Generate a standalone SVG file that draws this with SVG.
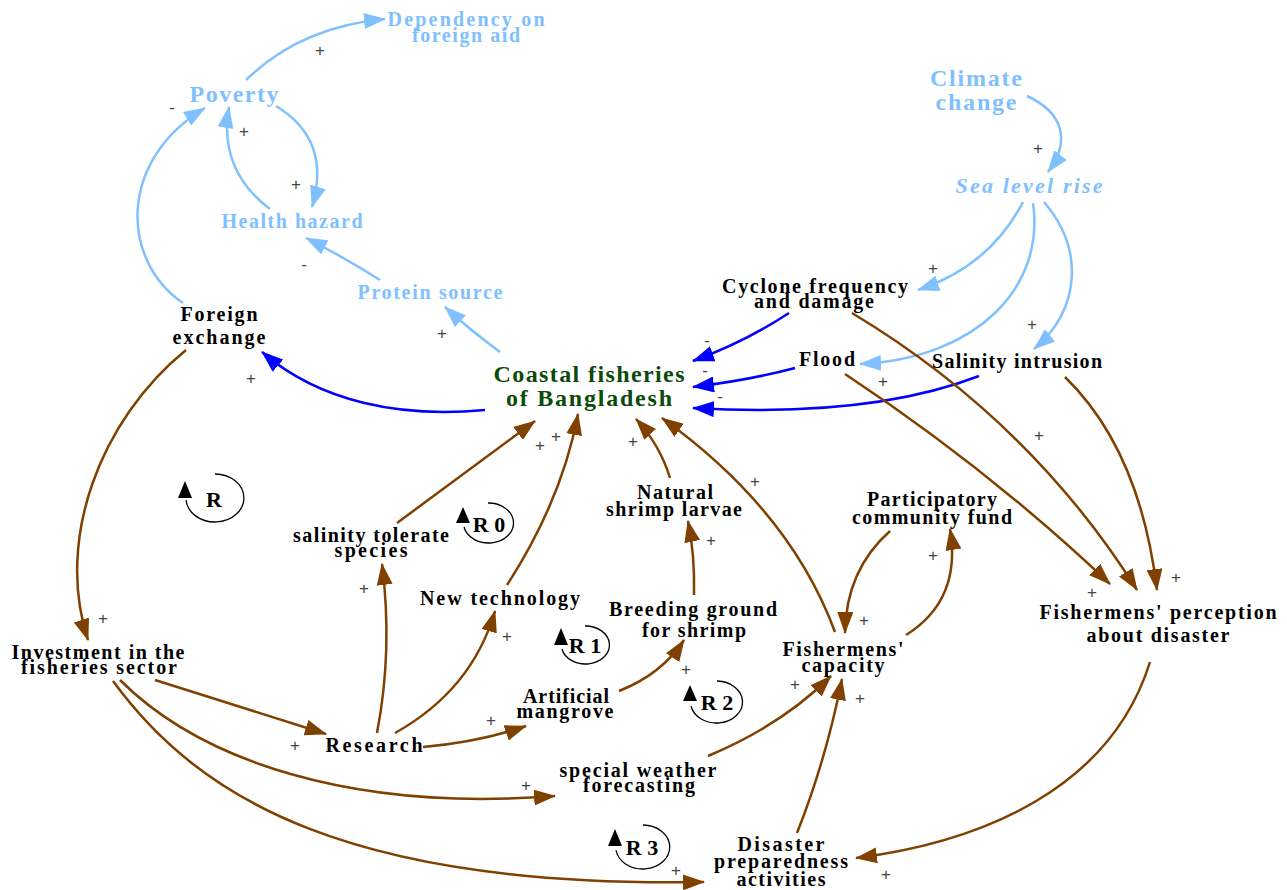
<svg xmlns="http://www.w3.org/2000/svg" width="1287" height="890" viewBox="0 0 1287 890">
<style>
.t{font-family:"Liberation Serif","Times New Roman",serif;font-weight:bold;font-size:20px;text-anchor:middle;fill:#000}
.lb{fill:#80C0FF}
.gr{fill:#0B4A0B}
.big{font-size:24px}
.p{font-family:"Liberation Sans","DejaVu Sans",sans-serif;font-size:17px;fill:#444;text-anchor:middle;dominant-baseline:central}
.c{fill:none;stroke-width:2.5}
.br{stroke:#804000}
.bl{stroke:#0000FF}
.lt{stroke:#80C0FF}
.loop{fill:none;stroke:#000;stroke-width:1.3}
.lt2{font-family:"Liberation Serif","Times New Roman",serif;font-weight:bold;font-size:22px;text-anchor:middle;fill:#000}
</style>
<defs>
<marker id="mbr" markerUnits="userSpaceOnUse" markerWidth="22" markerHeight="16" refX="21" refY="8" viewBox="0 0 22 16" orient="auto"><path d="M0,0 L22,8 L0,16 z" fill="#804000"/></marker>
<marker id="mbl" markerUnits="userSpaceOnUse" markerWidth="22" markerHeight="16" refX="21" refY="8" viewBox="0 0 22 16" orient="auto"><path d="M0,0 L22,8 L0,16 z" fill="#0000FF"/></marker>
<marker id="mlt" markerUnits="userSpaceOnUse" markerWidth="22" markerHeight="16" refX="21" refY="8" viewBox="0 0 22 16" orient="auto"><path d="M0,0 L22,8 L0,16 z" fill="#80C0FF"/></marker>
</defs>
<rect width="1287" height="890" fill="#fff"/>
<g id="connectors">
<path class="c lt" marker-end="url(#mlt)" d="M246,80 Q300,27 385,19"/>
<path class="c lt" marker-end="url(#mlt)" d="M183,303 C120,260 118,160 205,108"/>
<path class="c lt" marker-end="url(#mlt)" d="M270,209 Q218,170 229,107"/>
<path class="c lt" marker-end="url(#mlt)" d="M276,106 Q332,140 312,207"/>
<path class="c lt" marker-end="url(#mlt)" d="M380,280 Q340,255 306,238"/>
<path class="c lt" marker-end="url(#mlt)" d="M500,352 Q470,330 445,307"/>
<path class="c lt" marker-end="url(#mlt)" d="M1027,96 C1062,112 1072,140 1048,172"/>
<path class="c lt" marker-end="url(#mlt)" d="M1023,202 Q990,266 918,290"/>
<path class="c lt" marker-end="url(#mlt)" d="M1033,203 C1045,285 980,358 860,364"/>
<path class="c lt" marker-end="url(#mlt)" d="M1044,202 C1085,250 1080,310 1034,349"/>
<path class="c bl" marker-end="url(#mbl)" d="M485,410 C400,418 320,402 262,352"/>
<path class="c bl" marker-end="url(#mbl)" d="M789,313 Q745,342 693,361"/>
<path class="c bl" marker-end="url(#mbl)" d="M795,368 Q750,380 693,387"/>
<path class="c bl" marker-end="url(#mbl)" d="M979,376 Q870,418 693,408"/>
<path class="c br" marker-end="url(#mbr)" d="M186,350 C100,420 55,540 88,640"/>
<path class="c br" marker-end="url(#mbr)" d="M155,680 L326,734"/>
<path class="c br" marker-end="url(#mbr)" d="M120,680 C200,760 350,812 555,796"/>
<path class="c br" marker-end="url(#mbr)" d="M113,681 C200,800 350,888 704,882"/>
<path class="c br" marker-end="url(#mbr)" d="M377,733 Q393,650 382,564"/>
<path class="c br" marker-end="url(#mbr)" d="M395,733 Q472,690 495,611"/>
<path class="c br" marker-end="url(#mbr)" d="M423,747 Q480,742 526,726"/>
<path class="c br" marker-end="url(#mbr)" d="M397,523 L535,421"/>
<path class="c br" marker-end="url(#mbr)" d="M507,585 Q562,500 578,414"/>
<path class="c br" marker-end="url(#mbr)" d="M670,478 Q660,445 636,419"/>
<path class="c br" marker-end="url(#mbr)" d="M835,632 Q790,510 662,418"/>
<path class="c br" marker-end="url(#mbr)" d="M694,595 Q695,555 688,521"/>
<path class="c br" marker-end="url(#mbr)" d="M619,691 Q662,674 684,640"/>
<path class="c br" marker-end="url(#mbr)" d="M708,756 Q782,725 831,676"/>
<path class="c br" marker-end="url(#mbr)" d="M797,833 Q826,760 842,679"/>
<path class="c br" marker-end="url(#mbr)" d="M890,531 Q846,570 845,633"/>
<path class="c br" marker-end="url(#mbr)" d="M906,635 Q962,600 950,529"/>
<path class="c br" marker-end="url(#mbr)" d="M852,313 Q1030,420 1137,590"/>
<path class="c br" marker-end="url(#mbr)" d="M845,374 Q990,470 1110,584"/>
<path class="c br" marker-end="url(#mbr)" d="M1065,377 Q1140,450 1157,590"/>
<path class="c br" marker-end="url(#mbr)" d="M1150,662 C1110,790 980,842 856,858"/>
</g>
<g id="polarities">
<text class="p" x="320" y="50">+</text>
<text class="p" x="172" y="107">-</text>
<text class="p" x="244" y="131">+</text>
<text class="p" x="296" y="184">+</text>
<text class="p" x="304" y="264">-</text>
<text class="p" x="442" y="333">+</text>
<text class="p" x="1038" y="148">+</text>
<text class="p" x="933" y="268">+</text>
<text class="p" x="883" y="381">+</text>
<text class="p" x="1032" y="324">+</text>
<text class="p" x="251" y="378">+</text>
<text class="p" x="707" y="340">-</text>
<text class="p" x="705" y="370">-</text>
<text class="p" x="720" y="396">-</text>
<text class="p" x="103" y="618">+</text>
<text class="p" x="295" y="745">+</text>
<text class="p" x="526" y="785">+</text>
<text class="p" x="676" y="870">+</text>
<text class="p" x="364" y="588">+</text>
<text class="p" x="507" y="636">+</text>
<text class="p" x="491" y="720">+</text>
<text class="p" x="540" y="445">+</text>
<text class="p" x="556" y="436">+</text>
<text class="p" x="633" y="441">+</text>
<text class="p" x="755" y="481">+</text>
<text class="p" x="711" y="540">+</text>
<text class="p" x="686" y="669">+</text>
<text class="p" x="795" y="684">+</text>
<text class="p" x="860" y="698">+</text>
<text class="p" x="864" y="620">+</text>
<text class="p" x="933" y="555">+</text>
<text class="p" x="1039" y="435">+</text>
<text class="p" x="1092" y="592">+</text>
<text class="p" x="1176" y="577">+</text>
<text class="p" x="886" y="874">+</text>
</g>
<g id="n-dependency"><text class="t lb" x="466" y="26" textLength="157" lengthAdjust="spacing">Dependency on</text><text class="t lb" x="466" y="42" textLength="108" lengthAdjust="spacing">foreign aid</text></g>
<g id="n-poverty"><text class="t lb big" x="234" y="102" textLength="89" lengthAdjust="spacing">Poverty</text></g>
<g id="n-health"><text class="t lb" x="292" y="228" textLength="141" lengthAdjust="spacing">Health hazard</text></g>
<g id="n-protein"><text class="t lb" x="430" y="299" textLength="145" lengthAdjust="spacing">Protein source</text></g>
<g id="n-foreign"><text class="t" x="219" y="321" textLength="77" lengthAdjust="spacing">Foreign</text><text class="t" x="219" y="344" textLength="93" lengthAdjust="spacing">exchange</text></g>
<g id="n-coastal"><text class="t gr big" x="589" y="382" textLength="191" lengthAdjust="spacing">Coastal fisheries</text><text class="t gr big" x="589" y="406" textLength="166" lengthAdjust="spacing">of Bangladesh</text></g>
<g id="n-climate"><text class="t lb big" x="976" y="86" textLength="92" lengthAdjust="spacing">Climate</text><text class="t lb big" x="976" y="110" textLength="81" lengthAdjust="spacing">change</text></g>
<g id="n-sealevel"><text class="t lb" x="1029" y="193" style="font-size:22px;font-style:italic" textLength="147" lengthAdjust="spacing">Sea level rise</text></g>
<g id="n-cyclone"><text class="t" x="815" y="293" textLength="186" lengthAdjust="spacing">Cyclone frequency</text><text class="t" x="814" y="308" textLength="120" lengthAdjust="spacing">and damage</text></g>
<g id="n-flood"><text class="t" x="827" y="366" textLength="56" lengthAdjust="spacing">Flood</text></g>
<g id="n-salinity"><text class="t" x="1017" y="368" textLength="170" lengthAdjust="spacing">Salinity intrusion</text></g>
<g id="n-natural"><text class="t" x="675" y="499" textLength="76" lengthAdjust="spacing">Natural</text><text class="t" x="674" y="516" textLength="136" lengthAdjust="spacing">shrimp larvae</text></g>
<g id="n-participatory"><text class="t" x="932" y="506" textLength="130" lengthAdjust="spacing">Participatory</text><text class="t" x="932" y="524" textLength="160" lengthAdjust="spacing">community fund</text></g>
<g id="n-saltol"><text class="t" x="371" y="542" textLength="156" lengthAdjust="spacing">salinity tolerate</text><text class="t" x="371" y="557" textLength="73" lengthAdjust="spacing">species</text></g>
<g id="n-newtech"><text class="t" x="500" y="605" textLength="160" lengthAdjust="spacing">New technology</text></g>
<g id="n-breeding"><text class="t" x="693" y="616" textLength="168" lengthAdjust="spacing">Breeding ground</text><text class="t" x="694" y="637" textLength="104" lengthAdjust="spacing">for shrimp</text></g>
<g id="n-perception"><text class="t" x="1158" y="619" textLength="237" lengthAdjust="spacing">Fishermens' perception</text><text class="t" x="1158" y="642" textLength="143" lengthAdjust="spacing">about disaster</text></g>
<g id="n-investment"><text class="t" x="98" y="659" textLength="173" lengthAdjust="spacing">Investment in the</text><text class="t" x="99" y="674" textLength="156" lengthAdjust="spacing">fisheries sector</text></g>
<g id="n-capacity"><text class="t" x="843" y="656" textLength="121" lengthAdjust="spacing">Fishermens'</text><text class="t" x="843" y="672" textLength="83" lengthAdjust="spacing">capacity</text></g>
<g id="n-mangrove"><text class="t" x="566" y="703" textLength="86" lengthAdjust="spacing">Artificial</text><text class="t" x="565" y="718" textLength="97" lengthAdjust="spacing">mangrove</text></g>
<g id="n-research"><text class="t" x="374" y="752" textLength="97" lengthAdjust="spacing">Research</text></g>
<g id="n-weather"><text class="t" x="638" y="777" textLength="157" lengthAdjust="spacing">special weather</text><text class="t" x="639" y="792" textLength="112" lengthAdjust="spacing">forecasting</text></g>
<g id="n-disaster"><text class="t" x="781" y="851" textLength="87" lengthAdjust="spacing">Disaster</text><text class="t" x="781" y="868" textLength="134" lengthAdjust="spacing">preparedness</text><text class="t" x="781" y="886" textLength="89" lengthAdjust="spacing">activities</text></g>
<g id="loop-R"><path class="loop" d="M215,474 A29,24 0 1 1 186,500"/><path d="M185,481 L178,498 L192,498 z"/><text class="lt2" x="214" y="507">R</text></g>
<g id="loop-R0"><path class="loop" d="M488,503 A25,20 0 1 1 464,527"/><path d="M463,507 L456,523 L470,523 z"/><text class="lt2" x="489" y="532">R 0</text></g>
<g id="loop-R1"><path class="loop" d="M585,626 A24,19 0 1 1 562,649"/><path d="M561,628 L554,645 L568,645 z"/><text class="lt2" x="585" y="653">R 1</text></g>
<g id="loop-R2"><path class="loop" d="M717,681 A26,21 0 1 1 691,706"/><path d="M690,685 L683,701 L697,701 z"/><text class="lt2" x="717" y="710">R 2</text></g>
<g id="loop-R3"><path class="loop" d="M643,825 A27,22 0 1 1 616,850"/><path d="M615,829 L608,846 L622,846 z"/><text class="lt2" x="642" y="855">R 3</text></g>
</svg>
